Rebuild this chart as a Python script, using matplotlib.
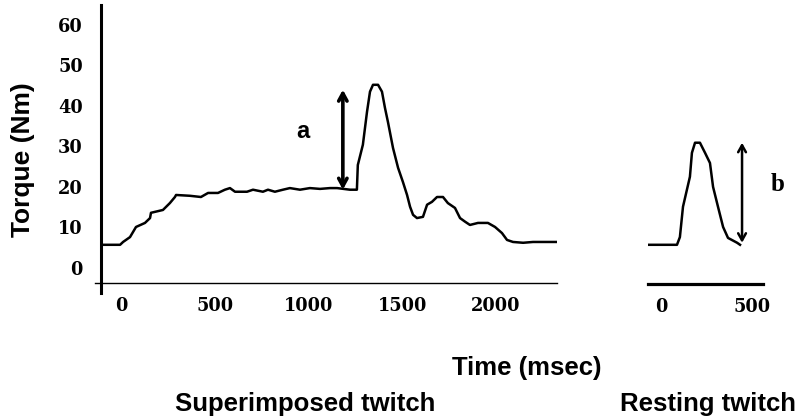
import matplotlib
matplotlib.use("Agg")
import matplotlib.pyplot as plt
from matplotlib.font_manager import FontProperties

# ---- data ----
sup_time = [-98, -7, 9, 46, 78, 126, 153, 158, 222, 259, 286, 292, 366, 425, 463, 516, 553,
            580, 607, 671, 703, 756, 783, 820, 863, 900, 954, 1007, 1061, 1114, 1152, 1221,
            1258, 1263, 1290, 1312, 1328, 1344, 1371, 1392, 1408, 1424, 1451, 1478, 1504,
            1526, 1542, 1558, 1579, 1611, 1633, 1659, 1686, 1718, 1744, 1782, 1809, 1836,
            1862, 1905, 1958, 1996, 2033, 2060, 2092, 2146, 2199, 2327]
sup_torque = [5.7, 5.7, 6.4, 7.6, 10.1, 11.1, 12.3, 13.6, 14.3, 16.0, 17.5, 18.0, 17.8, 17.5,
              18.5, 18.5, 19.3, 19.7, 18.8, 18.8, 19.3, 18.8, 19.3, 18.8, 19.3, 19.7, 19.3,
              19.7, 19.5, 19.7, 19.7, 19.3, 19.3, 25.4, 30.4, 38.5, 43.5, 45.2, 45.2, 43.5,
              39.5, 36.0, 29.6, 24.7, 21.2, 18.0, 15.1, 13.1, 12.3, 12.6, 15.6, 16.3, 17.5,
              17.5, 16.0, 14.8, 12.3, 11.4, 10.6, 11.1, 11.1, 10.1, 8.6, 6.9, 6.4, 6.2, 6.4, 6.4]

rest_time = [-77, 88, 104, 121, 159, 170, 187, 214, 242, 269, 286, 313, 341, 368, 418, 434]
rest_torque = [5.7, 5.7, 7.6, 15.1, 22.5, 28.4, 30.9, 30.9, 28.4, 25.9, 20.0, 15.1, 10.1,
               7.4, 6.2, 5.7]

y_ticks = [0, 10, 20, 30, 40, 50, 60]
sup_x_ticks = [0, 500, 1000, 1500, 2000]
rest_x_ticks = [0, 500]

arrow_a = (1183, 19.3, 44.0)   # time, bottom, top
arrow_b = (445, 6.2, 30.9)

tick_fp = FontProperties(family="DejaVu Serif", weight="bold", size=12.8)
label_font = dict(family="Liberation Sans", weight="bold")

fig = plt.figure(figsize=(8.04, 4.18), dpi=100)

# ---- superimposed twitch panel ----
ax = fig.add_axes([95/804, 1-293/418, 462/804, 288/418])
ax.plot(sup_time, sup_torque, color="black", lw=1.8)
ax.set_xlim(-141, 2327)
ax.set_ylim(-6.2, 64.9)
for s in ["top", "right"]:
    ax.spines[s].set_visible(False)
ax.spines["left"].set_position(("data", -109))
ax.spines["left"].set_linewidth(2.2)
ax.spines["bottom"].set_position(("data", -3.8))
ax.spines["bottom"].set_linewidth(1.0)
ax.set_yticks(y_ticks)
ax.set_xticks(sup_x_ticks)
ax.tick_params(axis="both", length=0)
ax.tick_params(axis="y", pad=13)
ax.tick_params(axis="x", pad=10)
for lab in ax.get_xticklabels() + ax.get_yticklabels():
    lab.set_fontproperties(tick_fp)
ax.patch.set_alpha(0)

ax.annotate("", xy=(arrow_a[0], arrow_a[2]), xytext=(arrow_a[0], arrow_a[1]),
            arrowprops=dict(arrowstyle="<->,head_length=0.55,head_width=0.3",
                            lw=2.6, color="black", shrinkA=0, shrinkB=0))
ax.text(970, 33.6, "a", ha="center", va="center", fontsize=17, **label_font)

# ---- resting twitch panel ----
ax2 = fig.add_axes([648/804, 1-293/418, 115/804, 288/418])
ax2.plot(rest_time, rest_torque, color="black", lw=1.8)
ax2.set_xlim(-71, 560)
ax2.set_ylim(-6.2, 64.9)
for s in ["top", "right", "left"]:
    ax2.spines[s].set_visible(False)
ax2.spines["bottom"].set_position(("data", -3.9))
ax2.spines["bottom"].set_linewidth(2.3)
ax2.set_yticks([])
ax2.set_xticks(rest_x_ticks)
ax2.tick_params(axis="x", length=0, pad=10)
for lab in ax2.get_xticklabels():
    lab.set_fontproperties(tick_fp)
ax2.patch.set_alpha(0)

ax2.annotate("", xy=(arrow_b[0], arrow_b[2]), xytext=(arrow_b[0], arrow_b[1]),
             arrowprops=dict(arrowstyle="<->,head_length=0.5,head_width=0.28",
                             lw=1.8, color="black", shrinkA=0, shrinkB=0))
ax2.text(642, 20.5, "b", ha="center", va="center", fontsize=18,
         family="Liberation Serif", weight="bold", clip_on=False)

# ---- labels ----
fig.text(23/804, 1-160/418, "Torque (Nm)", rotation=90, ha="center", va="center",
         fontsize=19, **label_font)
fig.text(527/804, 1-375/418, "Time (msec)", ha="center", va="baseline",
         fontsize=18.5, **label_font)
fig.text(175/804, 1-411/418, "Superimposed twitch", ha="left", va="baseline",
         fontsize=18.5, **label_font)
fig.text(620/804, 1-411/418, "Resting twitch", ha="left", va="baseline",
         fontsize=18.5, **label_font)

fig.savefig("out.png", dpi=100)
